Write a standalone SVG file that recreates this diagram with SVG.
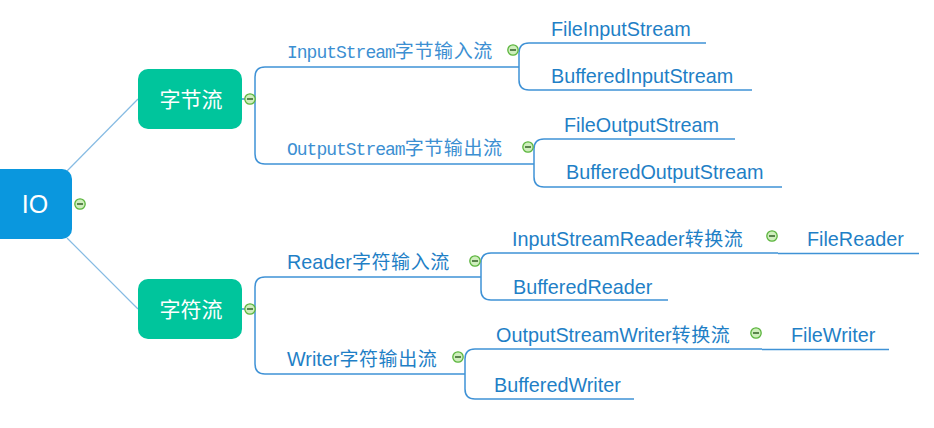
<svg xmlns="http://www.w3.org/2000/svg" xmlns:xlink="http://www.w3.org/1999/xlink" width="934" height="428" viewBox="0 0 934 428">
<style>
.bg{fill:#ffffff}
.root{fill:#0a97de}
.main{fill:#00c59c}
.ntext{fill:#ffffff;font-family:"Noto Sans CJK SC","Noto Sans",sans-serif;font-size:21px;text-anchor:middle}
.iotext{fill:#ffffff;font-family:"Liberation Sans","Noto Sans",sans-serif;font-size:25px;text-anchor:middle}
.lbl{fill:#1f7fc6;font-family:"Liberation Sans","Noto Sans CJK SC",sans-serif;font-size:19.8px}
.cjk{font-family:"Noto Sans CJK SC",sans-serif;font-size:19px;letter-spacing:0.6px}
.mono{fill:#3c8fd2;font-family:"Liberation Mono","DejaVu Sans Mono",monospace;font-size:18px;letter-spacing:-1px}
.br{fill:none;stroke:#3f92d6;stroke-width:1.5}
.thin{fill:none;stroke:#86bbe3;stroke-width:1.2}
</style>
<defs>
<g id="minus">
<circle r="5.2" fill="#cfeebd" stroke="#5bb53d" stroke-width="1.3"/>
<line x1="-3" y1="0" x2="3" y2="0" stroke="#3d6a30" stroke-width="1.6"/>
</g>
</defs>
<rect class="bg" x="0" y="0" width="934" height="428"/>

<g id="connectors">
<line class="thin" x1="67" y1="171" x2="138" y2="99"/>
<line class="thin" x1="67" y1="238" x2="138" y2="309"/>
<path class="br" d="M242 99 H255"/>
<path class="br" d="M519 67 H265 Q255 67 255 77 V154 Q255 164 265 164 H534"/>
<path class="br" d="M706 43 H529 Q519 43 519 53 V80 Q519 90 529 90 H752"/>
<path class="br" d="M735 139 H544 Q534 139 534 149 V177 Q534 187 544 187 H782"/>
<path class="br" d="M242 309 H255"/>
<path class="br" d="M481 277 H265 Q255 277 255 287 V364 Q255 374 265 374 H465"/>
<path class="br" d="M778 253 H491 Q481 253 481 263 V290 Q481 300 491 300 H668"/>
<path class="br" d="M778 253.5 H919"/>
<path class="br" d="M762 349 H475 Q465 349 465 359 V389 Q465 399 475 399 H634"/>
<path class="br" d="M762 349.5 H889"/>
</g>

<g id="node-io">
<rect class="root" x="-10" y="169" width="82" height="70" rx="10"/>
<text class="iotext" x="35" y="213">IO</text>
<use xlink:href="#minus" x="80" y="204"/>
</g>

<g id="node-byte">
<rect class="main" x="138" y="69" width="104" height="60" rx="10"/>
<text class="ntext" x="191" y="107">字节流</text>
<use xlink:href="#minus" x="250" y="99"/>
</g>

<g id="node-char">
<rect class="main" x="138" y="279" width="104" height="60" rx="10"/>
<text class="ntext" x="191" y="317">字符流</text>
<use xlink:href="#minus" x="250" y="309"/>
</g>

<g id="node-inputstream">
<text class="mono" x="287" y="58">InputStream<tspan class="cjk">字节输入流</tspan></text>
<use xlink:href="#minus" x="513" y="50"/>
</g>
<g id="node-outputstream">
<text class="mono" x="287" y="155">OutputStream<tspan class="cjk">字节输出流</tspan></text>
<use xlink:href="#minus" x="528" y="147"/>
</g>

<g id="node-fileinputstream"><text class="lbl" x="551" y="36">FileInputStream</text></g>
<g id="node-bufferedinputstream"><text class="lbl" x="551" y="83">BufferedInputStream</text></g>
<g id="node-fileoutputstream"><text class="lbl" x="564" y="132">FileOutputStream</text></g>
<g id="node-bufferedoutputstream"><text class="lbl" x="566" y="179">BufferedOutputStream</text></g>

<g id="node-reader">
<text class="lbl" x="287" y="269">Reader<tspan class="cjk">字符输入流</tspan></text>
<use xlink:href="#minus" x="475" y="261"/>
</g>
<g id="node-writer">
<text class="lbl" x="287" y="366">Writer<tspan class="cjk">字符输出流</tspan></text>
<use xlink:href="#minus" x="458" y="357"/>
</g>

<g id="node-inputstreamreader">
<text class="lbl" x="512" y="246">InputStreamReader<tspan class="cjk">转换流</tspan></text>
<use xlink:href="#minus" x="772" y="236"/>
</g>
<g id="node-filereader"><text class="lbl" x="807" y="246">FileReader</text></g>
<g id="node-bufferedreader"><text class="lbl" x="513" y="294">BufferedReader</text></g>

<g id="node-outputstreamwriter">
<text class="lbl" x="496" y="342">OutputStreamWriter<tspan class="cjk">转换流</tspan></text>
<use xlink:href="#minus" x="756" y="333"/>
</g>
<g id="node-filewriter"><text class="lbl" x="791" y="342">FileWriter</text></g>
<g id="node-bufferedwriter"><text class="lbl" x="494" y="392">BufferedWriter</text></g>
</svg>
